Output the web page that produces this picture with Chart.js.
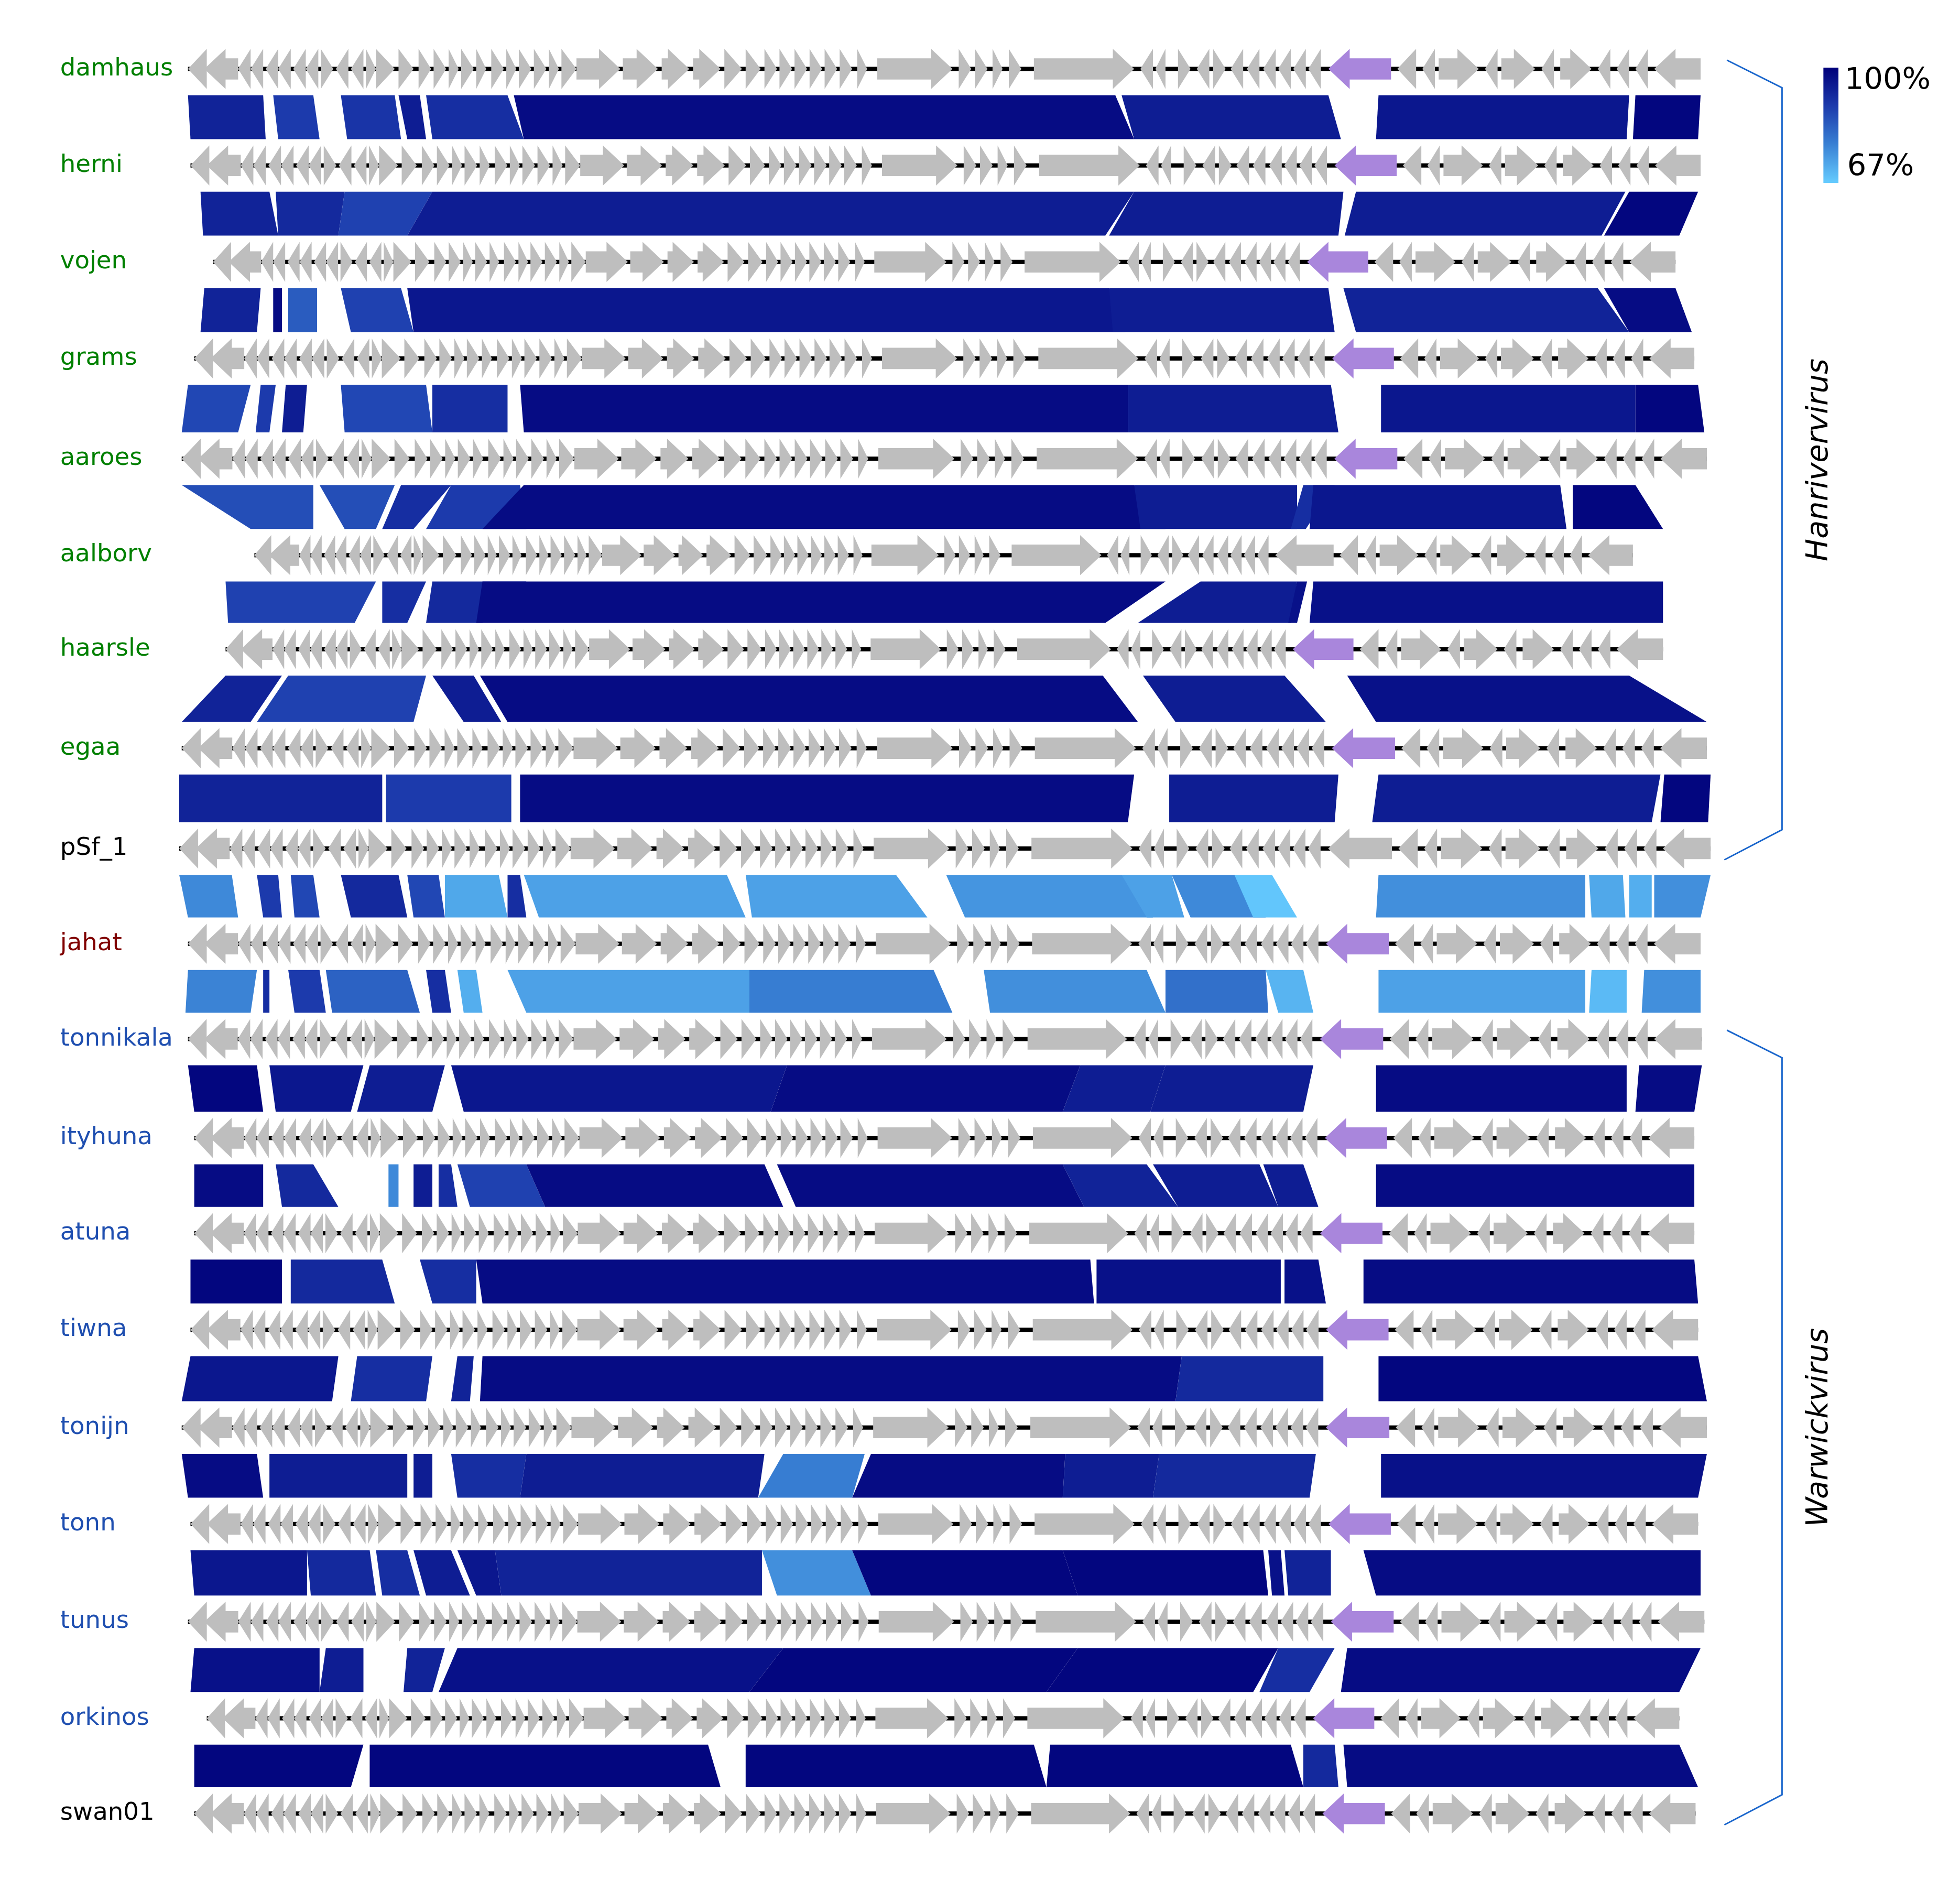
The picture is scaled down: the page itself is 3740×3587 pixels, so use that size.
<!DOCTYPE html>
<html><head><meta charset="utf-8">
<script src="https://cdn.jsdelivr.net/npm/chart.js@4"></script>
<style>html,body{margin:0;padding:0;background:#fff}#w{width:3740px;height:3587px}</style>
</head><body><div id="w"><canvas id="c"></canvas></div>
<script>
// ---- data (units: figure coordinates, genome axis) ----
const genomes = ["damhaus","herni","vojen","grams","aaroes","aalborv","haarsle","egaa","pSf_1","jahat","tonnikala","ityhuna","atuna","tiwna","tonijn","tonn","tunus","orkinos","swan01"];
const labelColors = ["#008000","#008000","#008000","#008000","#008000","#008000","#008000","#008000","#000000","#800000","#1f4fb0","#1f4fb0","#1f4fb0","#1f4fb0","#1f4fb0","#1f4fb0","#1f4fb0","#1f4fb0","#000000"];
const rowY = [55,132,209,286,366,443,518,597,677,753,829,908,984,1061,1139,1216,1294,1371,1447];
const genomeStart = [150,152,170,155,145,203,180,145,143,150,150,155,155,152,145,152,150,165,155];
const genomeMarker = [1085,1090,1067,1088,1090,1040,1055,1088,1085,1083,1078,1082,1078,1083,1083,1085,1087,1072,1080];
const genomeEnd = [1357,1357,1337,1352,1362,1303,1327,1362,1365,1357,1358,1352,1352,1355,1362,1355,1360,1340,1353];
const hasMarker = [1,1,1,1,1,0,1,1,0,1,1,1,1,1,1,1,1,1,1];
// gene template: [start, end, strand, isMarker]
const genes = [
[150,165,-1],[163,190,-1],[190,200,-1],[200,210,-1],[212,222,-1],[222,232,-1],[234,244,-1],[244,254,-1],[256,266,1],[268,278,-1],[280,290,-1],[292,300,1],[300,315,1],[318,330,1],[334,344,1],[346,356,1],[358,366,1],[368,378,1],[380,388,1],[392,402,1],[404,412,1],[414,424,1],[426,436,1],[438,446,1],[448,460,1],
[460,495,1],[497,525,1],[528,550,1],[553,575,1],[578,592,1],[595,607,1],[610,620,1],[622,632,1],[634,644,1],[646,656,1],[658,668,1],[670,680,1],[684,692,1],[700,760,1],[765,775,1],[778,788,1],[792,800,1],[805,815,1],[825,905,1],[910,920,-1],[922,930,-1],[940,950,1],[955,965,-1],[968,978,1],[982,992,-1],[995,1005,-1],[1008,1018,-1],[1020,1030,-1],[1032,1042,-1],[1044,1054,-1],
[1060,1110,-1,1],[1115,1130,-1],[1135,1145,-1],[1148,1180,1],[1185,1195,-1],[1198,1225,1],[1230,1240,-1],[1245,1270,1],[1275,1285,-1],[1290,1300,-1],[1305,1315,-1],[1320,1357,-1]];
// similarity blocks per gap: [topStart, topEnd, bottomStart, bottomEnd, identity%]
const blocks0 = [[150,210,152,212,94],[218,250,222,255,90],[272,315,277,320,91],[318,335,325,340,95],[340,405,345,418,92],[410,890,418,905,98],[895,1060,905,1070,95],[1100,1300,1098,1298,96],[1305,1357,1303,1355,99]];
const blocks1 = [[160,215,162,222,94],[220,275,222,270,93],[275,345,270,325,89],[345,905,325,882,95],[905,1072,885,1068,95],[1082,1297,1073,1278,95],[1300,1355,1280,1340,99]];
const blocks2 = [[163,208,160,205,94],[218,225,218,225,98],[230,253,230,253,85],[272,320,280,330,89],[325,885,330,898,96],[885,1060,888,1065,95],[1072,1275,1082,1300,94],[1280,1337,1300,1350,98]];
const blocks3 = [[150,200,145,190,88],[208,220,204,215,90],[228,245,225,242,95],[272,340,275,345,88],[345,405,345,405,92],[415,900,418,900,98],[900,1062,900,1068,95],[1102,1305,1102,1305,96],[1305,1355,1305,1360,99]];
const blocks4 = [[145,250,200,250,87],[255,315,275,300,87],[320,360,305,330,92],[360,415,340,420,90],[418,905,385,930,98],[905,1035,910,1035,95],[1040,1065,1030,1042,92],[1048,1245,1045,1250,96],[1255,1305,1255,1327,99]];
const blocks5 = [[180,300,182,283,89],[305,340,305,325,92],[345,420,340,385,93],[385,930,380,882,98],[958,1035,908,1030,95],[1035,1043,1028,1035,97],[1048,1327,1045,1327,97]];
const blocks6 = [[180,225,145,200,94],[230,340,205,330,89],[345,378,370,400,95],[383,880,405,908,98],[912,1025,938,1058,95],[1075,1300,1098,1362,97]];
const blocks7 = [[143,305,143,305,94],[308,408,308,408,90],[415,905,415,900,98],[933,1068,933,1065,95],[1100,1325,1095,1318,95],[1328,1365,1325,1363,99]];
const blocks8 = [[143,185,150,190,78],[205,222,210,225,90],[232,250,235,255,88],[272,318,280,325,93],[325,350,330,355,88],[355,398,355,405,73],[405,415,405,420,92],[418,580,430,595,74],[595,715,600,740,74],[755,898,770,920,76],[895,935,915,945,74],[935,985,950,1010,78],[985,1015,1000,1035,68],[1100,1265,1098,1265,77],[1268,1295,1270,1297,73],[1300,1318,1300,1318,72],[1320,1365,1320,1357,77]];
const blocks9 = [[150,205,148,200,79],[210,215,210,215,92],[230,255,235,260,90],[260,325,265,335,84],[340,355,345,360,92],[365,380,370,385,72],[405,598,420,598,74],[598,745,598,760,80],[785,915,790,930,77],[930,1010,930,1012,82],[1010,1040,1020,1048,71],[1100,1265,1100,1265,74],[1270,1298,1268,1298,70],[1312,1357,1310,1357,77]];
const blocks10 = [[150,205,155,210,99],[215,290,220,280,96],[295,355,285,345,95],[360,628,370,615,96],[628,862,615,848,98],[862,930,848,918,95],[930,1048,918,1040,95],[1098,1298,1098,1298,98],[1308,1358,1305,1352,98]];
const blocks11 = [[155,210,155,210,98],[220,250,225,270,93],[310,318,310,318,78],[330,345,330,345,95],[350,360,350,365,92],[365,420,375,435,89],[420,610,435,625,98],[620,848,635,865,98],[848,915,865,940,94],[920,1005,940,1020,95],[1008,1040,1020,1052,95],[1098,1352,1098,1352,98]];
const blocks12 = [[152,225,152,225,99],[232,305,232,315,93],[335,380,345,380,92],[380,870,385,873,98],[875,1022,875,1022,97],[1025,1052,1025,1058,97],[1088,1352,1088,1355,98]];
const blocks13 = [[152,270,145,265,96],[285,345,280,340,92],[365,378,360,375,94],[385,943,383,938,98],[943,1056,938,1056,93],[1100,1355,1100,1362,99]];
const blocks14 = [[145,205,150,210,98],[215,325,215,325,95],[330,345,330,345,95],[360,420,365,415,92],[420,610,415,605,95],[625,690,605,680,80],[695,850,680,848,98],[850,925,848,920,95],[925,1050,920,1045,93],[1102,1362,1102,1355,97]];
const blocks15 = [[152,245,155,245,96],[245,295,248,300,93],[300,325,305,335,92],[330,360,340,375,95],[365,395,380,400,96],[395,608,400,608,94],[608,680,620,695,77],[680,848,695,860,99],[848,1008,860,1012,99],[1012,1022,1015,1025,97],[1025,1062,1028,1062,94],[1088,1357,1098,1357,98]];
const blocks16 = [[155,255,152,255,97],[260,290,255,290,95],[325,355,322,345,94],[365,625,350,598,97],[625,860,598,835,99],[860,1020,835,1000,99],[1020,1065,1005,1045,92],[1075,1357,1070,1340,98]];
const blocks17 = [[155,290,155,280,99],[295,565,295,575,99],[595,825,595,835,99],[838,1030,835,1040,99],[1040,1065,1040,1068,93],[1072,1340,1075,1355,98]];
const allBlocks = [blocks0,blocks1,blocks2,blocks3,blocks4,blocks5,blocks6,blocks7,blocks8,blocks9,blocks10,blocks11,blocks12,blocks13,blocks14,blocks15,blocks16,blocks17];
const legendTicks = ["100%","67%"];
const groups = [["Hanrivervirus",0,8],["Warwickvirus",10,18]];

const K = 3740/1564;
const XMAX = 1564, YMAX = 3587/K;
const TEMPL = [150,1085,1357];

function idColor(p){
  const stops=[[67,[102,204,255]],[80,[55,125,210]],[90,[28,58,172]],[100,[0,0,122]]];
  p=Math.max(67,Math.min(100,p));
  for(let i=0;i<stops.length-1;i++){const a=stops[i],b=stops[i+1];
    if(p<=b[0]){const t=(p-a[0])/(b[0]-a[0]);return 'rgb('+a[1].map((v,j)=>Math.round(v+(b[1][j]-v)*t)).join(',')+')';}}
  return 'rgb(0,0,122)';
}
function mapT(g,x){
  const s=genomeStart[g],p=genomeMarker[g],e=genomeEnd[g];
  return x<=TEMPL[1]? s+(x-TEMPL[0])/(TEMPL[1]-TEMPL[0])*(p-s) : p+(x-TEMPL[1])/(TEMPL[2]-TEMPL[1])*(e-p);
}

const drawPlugin={id:'genomes',afterDatasetsDraw(chart){
  const ctx=chart.ctx, X=chart.scales.x, Y=chart.scales.y;
  const px=v=>X.getPixelForValue(v), py=v=>Y.getPixelForValue(v);
  ctx.save();
  allBlocks.forEach((bl,i)=>{
    const y0=py(rowY[i]+21), y1=py(rowY[i+1]-21);
    bl.forEach(b=>{ctx.fillStyle=idColor(b[4]);ctx.beginPath();
      ctx.moveTo(px(b[0]),y0);ctx.lineTo(px(b[1]),y0);ctx.lineTo(px(b[3]),y1);ctx.lineTo(px(b[2]),y1);ctx.closePath();ctx.fill();});
  });
  genomes.forEach((name,g)=>{
    const yc=py(rowY[g]);
    ctx.fillStyle='#000';
    ctx.fillRect(px(genomeStart[g]),yc-1.7*K,px(genomeEnd[g])-px(genomeStart[g]),3.4*K);
    genes.forEach(ge=>{
      const a=px(mapT(g,ge[0])), b=px(mapT(g,ge[1]));
      const L=b-a, hh=16*K, bh=8.5*K, head=Math.min(L,17*K);
      ctx.fillStyle=(ge[3]&&hasMarker[g])?'#a986dc':'#bebebe';
      ctx.beginPath();
      if(ge[2]>0){ctx.moveTo(a,yc-bh);ctx.lineTo(b-head,yc-bh);ctx.lineTo(b-head,yc-hh);ctx.lineTo(b,yc);ctx.lineTo(b-head,yc+hh);ctx.lineTo(b-head,yc+bh);ctx.lineTo(a,yc+bh);}
      else{ctx.moveTo(b,yc-bh);ctx.lineTo(a+head,yc-bh);ctx.lineTo(a+head,yc-hh);ctx.lineTo(a,yc);ctx.lineTo(a+head,yc+hh);ctx.lineTo(a+head,yc+bh);ctx.lineTo(b,yc+bh);}
      ctx.closePath();ctx.fill();
    });
    ctx.fillStyle=labelColors[g];ctx.font=(19.5*K)+'px "DejaVu Sans"';ctx.textBaseline='middle';ctx.textAlign='left';
    ctx.fillText(name,px(48),yc);
  });
  ctx.strokeStyle='#1a66cc';ctx.lineWidth=1.2*K;
  groups.forEach(gr=>{
    const ya=rowY[gr[1]]-7, yb=rowY[gr[2]]+9;
    ctx.beginPath();ctx.moveTo(px(1378),py(ya));ctx.lineTo(px(1422),py(ya+22));ctx.lineTo(px(1422),py(yb-24));ctx.lineTo(px(1376),py(yb));ctx.stroke();
    ctx.save();ctx.translate(px(1452),py((ya+yb)/2));ctx.rotate(-Math.PI/2);
    ctx.fillStyle='#000';ctx.font='italic '+(24*K)+'px "DejaVu Sans"';ctx.textAlign='center';ctx.textBaseline='middle';
    ctx.fillText(gr[0],0,0);ctx.restore();
  });
  const gx0=px(1455),gx1=px(1467),gy0=py(54),gy1=py(146);
  const grd=ctx.createLinearGradient(0,gy0,0,gy1);
  grd.addColorStop(0,idColor(100));grd.addColorStop(0.33,idColor(90));grd.addColorStop(0.65,idColor(80));grd.addColorStop(1,idColor(67));
  ctx.fillStyle=grd;ctx.fillRect(gx0,gy0,gx1-gx0,gy1-gy0);
  ctx.fillStyle='#000';ctx.font=(24*K)+'px "DejaVu Sans"';ctx.textAlign='left';ctx.textBaseline='middle';
  ctx.fillText(legendTicks[0],px(1472),py(65));ctx.fillText(legendTicks[1],px(1474),py(134));
  ctx.restore();
}};

new Chart(document.getElementById('c'),{
  type:'scatter',
  data:{datasets:[{data:[],pointRadius:0}]},
  options:{responsive:true,maintainAspectRatio:false,devicePixelRatio:1,animation:false,
    layout:{padding:0},
    plugins:{legend:{display:false},tooltip:{enabled:false}},
    scales:{x:{type:'linear',min:0,max:XMAX,display:false},y:{type:'linear',min:0,max:YMAX,reverse:true,display:false}}},
  plugins:[drawPlugin]
});
</script></body></html>
